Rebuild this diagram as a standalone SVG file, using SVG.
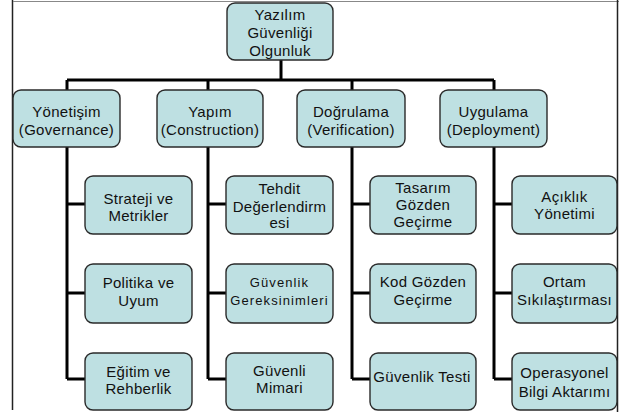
<svg xmlns="http://www.w3.org/2000/svg" width="619" height="412" viewBox="0 0 619 412">
<style>
.box{fill:#bee0e2;stroke:#2a2a2a;stroke-width:1.4}
.t{font-family:"Liberation Sans",Arial,sans-serif;font-size:15px;fill:#111;text-anchor:middle;letter-spacing:0.3px}
.s{font-size:13px;letter-spacing:1.1px}
.c{stroke:#000;stroke-width:3;fill:none}
.frame{stroke:#222;stroke-width:1.5}
</style>
<rect width="619" height="412" fill="#fff"/>
<line class="frame" x1="12.5" y1="0" x2="12.5" y2="410"/>
<line x1="13" y1="1.5" x2="619" y2="1.5" stroke="#888" stroke-width="1"/>
<line class="frame" x1="617.5" y1="0" x2="617.5" y2="412"/>
<g id="connectors">
<path class="c" d="M281 60V80M67 80H494M67 80V90M208 80V90M352 80V90M494 80V90"/>
<path class="c" d="M67 147V379M67 204H85M67 293H85M67 379H85"/>
<path class="c" d="M208 147V379M208 204H226M208 293H226M208 379H226"/>
<path class="c" d="M352 147V379M352 204H370M352 293H370M352 379H370"/>
<path class="c" d="M494 147V379M494 204H512M494 293H512M494 379H512"/>
</g>
<g id="root"><rect class="box" x="227" y="3" width="106" height="57" rx="8"/>
<text class="t" x="280" y="20">Yazılım</text><text class="t" x="280" y="38">Güvenliği</text><text class="t" x="280" y="56">Olgunluk</text></g>
<g id="yonetisim"><rect class="box" x="13" y="90" width="107" height="57" rx="8"/>
<text class="t" x="66.5" y="117">Yönetişim</text><text class="t" x="66.5" y="135">(Governance)</text></g>
<g id="yapim"><rect class="box" x="157" y="90" width="106" height="57" rx="8"/>
<text class="t" x="210" y="117">Yapım</text><text class="t" x="210" y="135">(Construction)</text></g>
<g id="dogrulama"><rect class="box" x="297" y="90" width="108" height="57" rx="8"/>
<text class="t" x="351" y="117">Doğrulama</text><text class="t" x="351" y="135">(Verification)</text></g>
<g id="uygulama"><rect class="box" x="440" y="90" width="107" height="57" rx="8"/>
<text class="t" x="493.5" y="117">Uygulama</text><text class="t" x="493.5" y="135">(Deployment)</text></g>
<g id="strateji"><rect class="box" x="85" y="176" width="107" height="58" rx="8"/>
<text class="t" x="138.5" y="204">Strateji ve</text><text class="t" x="138.5" y="221">Metrikler</text></g>
<g id="politika"><rect class="box" x="85" y="264" width="107" height="59" rx="8"/>
<text class="t" x="138.5" y="288">Politika ve</text><text class="t" x="138.5" y="306">Uyum</text></g>
<g id="egitim"><rect class="box" x="85" y="353" width="107" height="57" rx="8"/>
<text class="t" x="138.5" y="377">Eğitim ve</text><text class="t" x="138.5" y="394">Rehberlik</text></g>
<g id="tehdit"><rect class="box" x="226" y="176" width="107" height="58" rx="8"/>
<text class="t" x="279.5" y="194">Tehdit</text><text class="t" x="279.5" y="212">Değerlendirm</text><text class="t" x="279.5" y="228">esi</text></g>
<g id="gereksinim"><rect class="box" x="226" y="264" width="107" height="59" rx="8"/>
<text class="t s" x="279.5" y="287">Güvenlik</text><text class="t s" x="279.5" y="305">Gereksinimleri</text></g>
<g id="mimari"><rect class="box" x="226" y="353" width="107" height="57" rx="8"/>
<text class="t" x="279.5" y="376">Güvenli</text><text class="t" x="279.5" y="393">Mimari</text></g>
<g id="tasarim"><rect class="box" x="370" y="176" width="106" height="58" rx="8"/>
<text class="t" x="423" y="193">Tasarım</text><text class="t" x="423" y="210">Gözden</text><text class="t" x="423" y="227">Geçirme</text></g>
<g id="kod"><rect class="box" x="370" y="264" width="106" height="59" rx="8"/>
<text class="t" x="423" y="287">Kod Gözden</text><text class="t" x="423" y="305">Geçirme</text></g>
<g id="test"><rect class="box" x="370" y="353" width="106" height="57" rx="8"/>
<text class="t" x="422" y="382">Güvenlik Testi</text></g>
<g id="aciklik"><rect class="box" x="512" y="176" width="105" height="58" rx="8"/>
<text class="t" x="564.5" y="202">Açıklık</text><text class="t" x="564.5" y="219">Yönetimi</text></g>
<g id="ortam"><rect class="box" x="512" y="264" width="105" height="59" rx="8"/>
<text class="t" x="564.5" y="287">Ortam</text><text class="t" x="564.5" y="305">Sıkılaştırması</text></g>
<g id="operasyonel"><rect class="box" x="512" y="353" width="105" height="57" rx="8"/>
<text class="t" x="564.5" y="378">Operasyonel</text><text class="t" x="564.5" y="397">Bilgi Aktarımı</text></g>
</svg>
